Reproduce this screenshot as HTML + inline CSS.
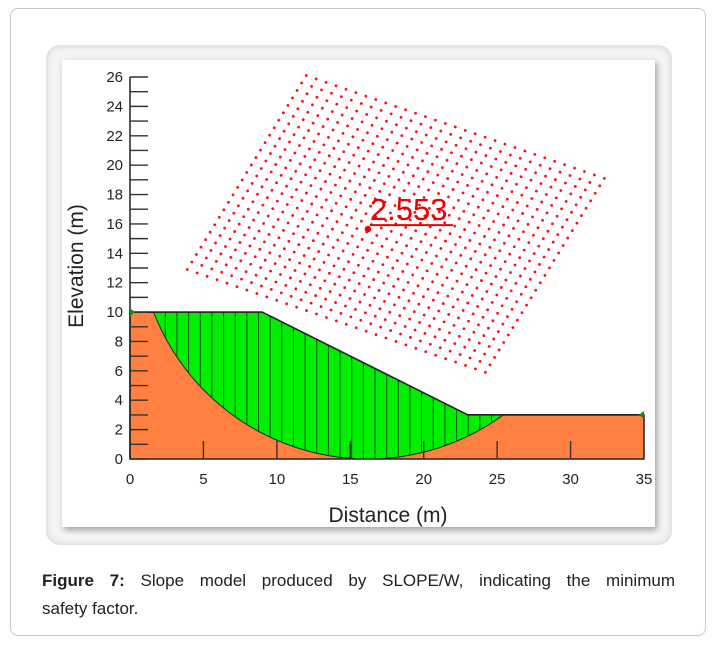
<!DOCTYPE html>
<html><head><meta charset="utf-8"><style>
body{margin:0;width:718px;height:645px;background:#fff;font-family:"Liberation Sans",Arial,sans-serif;overflow:hidden}
#card{position:absolute;left:10px;top:8px;width:696px;height:628px;border:1px solid #c8c8c8;border-radius:8px;box-sizing:border-box}
#frame{position:absolute;left:46px;top:45px;width:626px;height:500px;border-radius:14px;background:#f4f4f4;box-shadow:0 0 8px rgba(0,0,0,.15) inset}
#img{position:absolute;left:62px;top:60px;width:593px;height:467px;background:#fff;box-shadow:2px 3px 6px rgba(0,0,0,.35)}
#cap{position:absolute;left:42px;top:567px;width:633px;font-size:17px;line-height:28px;color:#222}
#cap .l1{text-align:justify;text-align-last:justify;white-space:nowrap;display:block}
</style></head><body>
<div id="card"></div>
<div id="frame"></div>
<div id="img"></div>
<svg id="chart" width="718" height="645" style="position:absolute;left:0;top:0"></svg>
<div id="cap"><span class="l1"><b>Figure 7:</b> Slope model produced by SLOPE/W, indicating the minimum</span>safety factor.</div>
<script>
const xTicks=[0,5,10,15,20,25,30,35];
const yTicks=[0,2,4,6,8,10,12,14,16,18,20,22,24,26];
const groundX=[0,9,23,35];
const groundY=[10,10,3,3];
const slipCenter=[16.2,15.65];
const slipRadius=15.65;
const fosValue=["2.553"];
const gridCorners=[[12.0,26.1],[32.3,19.1],[3.9,12.9]]; // top, right, left (m)
const gridCounts=[30,26];
const NS="http://www.w3.org/2000/svg";
const svg=document.getElementById('chart');
const X=v=>130+v*(644-130)/35, Y=v=>459-v*(459-77)/26;
function mk(t,a,p){const e=document.createElementNS(NS,t);for(const k in a)e.setAttribute(k,a[k]);(p||svg).appendChild(e);return e;}
const [cx,cy]=slipCenter,R=slipRadius;
function groundAt(x){for(let i=0;i<groundX.length-1;i++){if(x>=groundX[i]&&x<=groundX[i+1]){const t=(x-groundX[i])/(groundX[i+1]-groundX[i]);return groundY[i]+t*(groundY[i+1]-groundY[i]);}}return groundY[groundY.length-1];}
function circ(x){return cy-Math.sqrt(Math.max(0,R*R-(x-cx)**2));}
let xa=0,xb=35;
for(let x=0;x<=35;x+=0.01){if(circ(x)<=groundAt(x)&&Math.abs(x-cx)<R){xa=x;break;}}
for(let x=35;x>=0;x-=0.01){if(circ(x)<=groundAt(x)&&Math.abs(x-cx)<R){xb=x;break;}}
let gp=groundX.map((x,i)=>X(x)+','+Y(groundY[i])).join(' ')+' '+X(35)+','+Y(0)+' '+X(0)+','+Y(0);
const g=mk('polygon',{points:gp,fill:'#ff8040',stroke:'#222','stroke-width':1.5});

let pts=[];
for(let x=xa;x<=xb;x+=0.1)pts.push(X(x)+','+Y(circ(x)));
pts.push(X(xb)+','+Y(groundAt(xb)));
for(let i=groundX.length-1;i>=0;i--)if(groundX[i]>xa&&groundX[i]<xb)pts.push(X(groundX[i])+','+Y(groundY[i]));
pts.push(X(xa)+','+Y(groundAt(xa)));
const sm=mk('polygon',{points:pts.join(' '),fill:'#00ee00',stroke:'#222','stroke-width':1});

const nS=30;
for(let i=1;i<nS;i++){const x=xa+(xb-xa)*i/nS;const l=mk('line',{x1:X(x),x2:X(x),y1:Y(groundAt(x)),y2:Y(circ(x)),stroke:'#115511','stroke-width':1});
}
const gl=mk('polyline',{points:groundX.map((x,i)=>X(x)+','+Y(groundY[i])).join(' '),fill:'none',stroke:'#222','stroke-width':1.5});

const ya=mk('line',{x1:130,x2:130,y1:Y(26),y2:Y(0),stroke:'#222','stroke-width':1.5});

for(let v=0;v<=26;v++){const t=mk('line',{x1:130,x2:148,y1:Y(v),y2:Y(v),stroke:'#333','stroke-width':1.4});
}
yTicks.forEach(v=>{const t=mk('text',{x:123,y:Y(v)+5,'text-anchor':'end','font-size':15,fill:'#222'});t.textContent=v;
});
xTicks.forEach(v=>{if(v>0&&v<35){const t=mk('line',{x1:X(v),x2:X(v),y1:Y(0),y2:Y(0)-18,stroke:'#333','stroke-width':1.4});
}
const l=mk('text',{x:X(v),y:484,'text-anchor':'middle','font-size':15,fill:'#222'});l.textContent=v;
});
const xt=mk('text',{x:388,y:522,'text-anchor':'middle','font-size':21,fill:'#222'});xt.textContent='Distance (m)';

const yt=mk('text',{x:0,y:0,'text-anchor':'middle','font-size':21,fill:'#222',transform:'translate(83,266) rotate(-90)'});yt.textContent='Elevation (m)';

[[0,10,1],[35,3,-1]].forEach(([x,y,d])=>{const m=mk('polygon',{points:`${X(x)},${Y(y)-4} ${X(x)},${Y(y)+4} ${X(x)+5*d},${Y(y)}`,fill:'#1a8a1a'});
});
const [T,Rt,L]=gridCorners;const [nu,nv]=gridCounts;
const gg=mk('g',{});
for(let i=0;i<=nu;i++)for(let j=0;j<=nv;j++){
const mx=T[0]+(Rt[0]-T[0])*i/nu+(L[0]-T[0])*j/nv, my=T[1]+(Rt[1]-T[1])*i/nu+(L[1]-T[1])*j/nv;
const c=mk('circle',{cx:X(mx),cy:Y(my),r:1.4,fill:'#ff1010'},gg);
}
const md=mk('circle',{cx:X(cx),cy:Y(cy),r:3.2,fill:'#ee0000'});

const ft=mk('text',{x:X(cx)+2,y:Y(cy)-9,'font-size':31,fill:'#ee0000'});ft.textContent=fosValue[0];

const ul=mk('line',{x1:X(cx)+2,x2:X(cx)+85,y1:Y(cy)-4,y2:Y(cy)-4,stroke:'#ee0000','stroke-width':2});

</script>
</body></html>
